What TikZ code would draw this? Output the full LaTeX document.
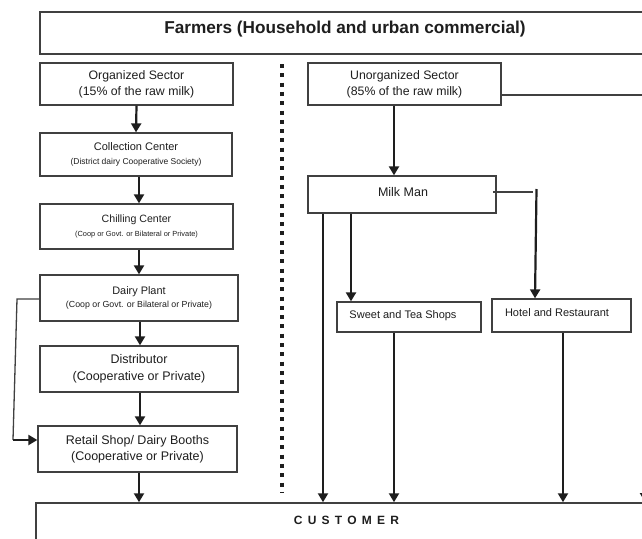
\documentclass[tikz,border=0pt]{standalone}
\usepackage{fontspec}
\setmainfont{Liberation Sans}
\usetikzlibrary{arrows.meta,calc}
\newcommand{\fsz}[2]{\fontsize{#1}{#2}\selectfont}
\definecolor{ink}{HTML}{1E1E1E}
\definecolor{edge}{HTML}{404040}
\tikzset{
  box/.style={draw=edge, line width=1.3pt, inner sep=0pt, align=center, text=ink},
  arr/.style={draw=ink, line width=2.2pt, -{Triangle[length=9pt,width=10pt]}},
  thin/.style={draw=edge, line width=1.3pt},
  lbl/.style={inner sep=0pt, text=ink}
}
\begin{document}
\begin{tikzpicture}[x=1pt,y=-1pt]
\useasboundingbox (0,0) rectangle (642,538);
\clip (0,0) rectangle (642,538);
\fill[white] (0,0) rectangle (642,538);
% Farmers
\node[box, minimum width=620pt, minimum height=42pt] (farmers) at (350,33) {};
\node[lbl, font=\bfseries\fsz{17.2}{20}] (title) at (345,29) {Farmers (Household and urban commercial)};
% organized column
\node[box, minimum width=193pt, minimum height=42pt, font=\fsz{12.3}{16}] (org) at (136.5,84) {Organized Sector\\(15\% of the raw milk)};
\node[box, minimum width=192pt, minimum height=43pt, font=\fsz{11}{14}] (coll) at (136,154.5) {Collection Center\\{\fsz{8.5}{14}(District dairy Cooperative Society)}};
\node[box, minimum width=193pt, minimum height=45pt, font=\fsz{10.6}{13.7}] (chill) at (136.5,226.5) {Chilling Center\\{\fsz{7.4}{13.7}(Coop or Govt. or Bilateral or Private)}};
\node[box, minimum width=198pt, minimum height=46pt, font=\fsz{10.9}{13.7}] (dairy) at (139,298) {Dairy Plant\\{\fsz{8.8}{13.7}(Coop or Govt. or Bilateral or Private)}};
\node[box, minimum width=198pt, minimum height=46pt, font=\fsz{12.5}{16.5}] (dist) at (139,369) {Distributor\\(Cooperative or Private)};
\node[box, minimum width=199pt, minimum height=46pt, font=\fsz{12.5}{15.7}] (retail) at (137.5,449) {Retail Shop/ Dairy Booths\\(Cooperative or Private)};
% customer
\node[box, minimum width=624pt, minimum height=60pt, line width=1.5pt] (cust) at (348,533) {};
\node[lbl, font=\bfseries\fsz{12}{14}] (custtxt) at (346.5,520) {C\hspace{5.2pt}U\hspace{5.2pt}S\hspace{5.2pt}T\hspace{5.2pt}O\hspace{5.2pt}M\hspace{5.2pt}E\hspace{5.2pt}R};
% divider
\draw[ink, line width=4pt, dash pattern=on 4pt off 5.3pt] (282,64) -- (282,492);
% unorganized column
\node[box, minimum width=193pt, minimum height=42pt, font=\fsz{12.3}{16}] (unorg) at (404.5,84) {Unorganized Sector\\(85\% of the raw milk)};
\node[box, minimum width=188pt, minimum height=37pt] (milk) at (402,194.5) {};
\node[lbl, font=\fsz{12.5}{14}] (milktxt) at (403,192) {Milk Man};
\node[box, minimum width=144pt, minimum height=30pt] (sweet) at (409,317) {};
\node[lbl, font=\fsz{11}{13}] (sweettxt) at (403,316) {Sweet and Tea Shops};
\node[box, minimum width=139pt, minimum height=33pt] (hotel) at (561.5,315.5) {};
\node[lbl, font=\fsz{11}{13}] (hoteltxt) at (557,313) {Hotel and Restaurant};
% helper coordinates
\coordinate (mmr) at (493,192);
\coordinate (mmh) at (533,192);
\coordinate (hv) at (536.5,189);
\coordinate (fb1) at (17,299);
\coordinate (fb2) at (13,440);
\coordinate (ur1) at (648,95);
\coordinate (ur2) at (645,95);
\coordinate (ur3) at (645,502);
% organized arrows
\draw[arr] (org.south) -- (coll.north);
\draw[arr] (coll.south -| 139,0) -- (chill.north -| 139,0);
\draw[arr] (chill.south -| 139,0) -- (dairy.north -| 139,0);
\draw[arr] (dairy.south -| 140,0) -- (dist.north -| 140,0);
\draw[arr] (dist.south -| 140,0) -- (retail.north -| 140,0);
\draw[arr] (retail.south -| 139,0) -- (cust.north -| 139,0);
% feedback from dairy plant to retail
\draw[thin] (dairy.west |- fb1) -- (fb1) -- (fb2);
\draw[arr] (fb2) -- (retail.west |- fb2);
% unorganized arrows
\draw[arr] (unorg.south -| 394,0) -- (milk.north -| 394,0);
\draw[thin] (unorg.east |- ur1) -- (ur1);
\draw[arr] (ur2) -- (ur3);
\draw[arr] (milk.south -| 323,0) -- (cust.north -| 323,0);
\draw[arr] (milk.south -| 351,0) -- (sweet.north -| 351,0);
\draw[arr] (sweet.south -| 394,0) -- (cust.north -| 394,0);
\draw[thin] (mmr) -- (mmh);
\draw[arr] (hv) -- (hotel.north -| 535,0);
\draw[arr] (hotel.south -| 563,0) -- (cust.north -| 563,0);
\end{tikzpicture}
\end{document}
